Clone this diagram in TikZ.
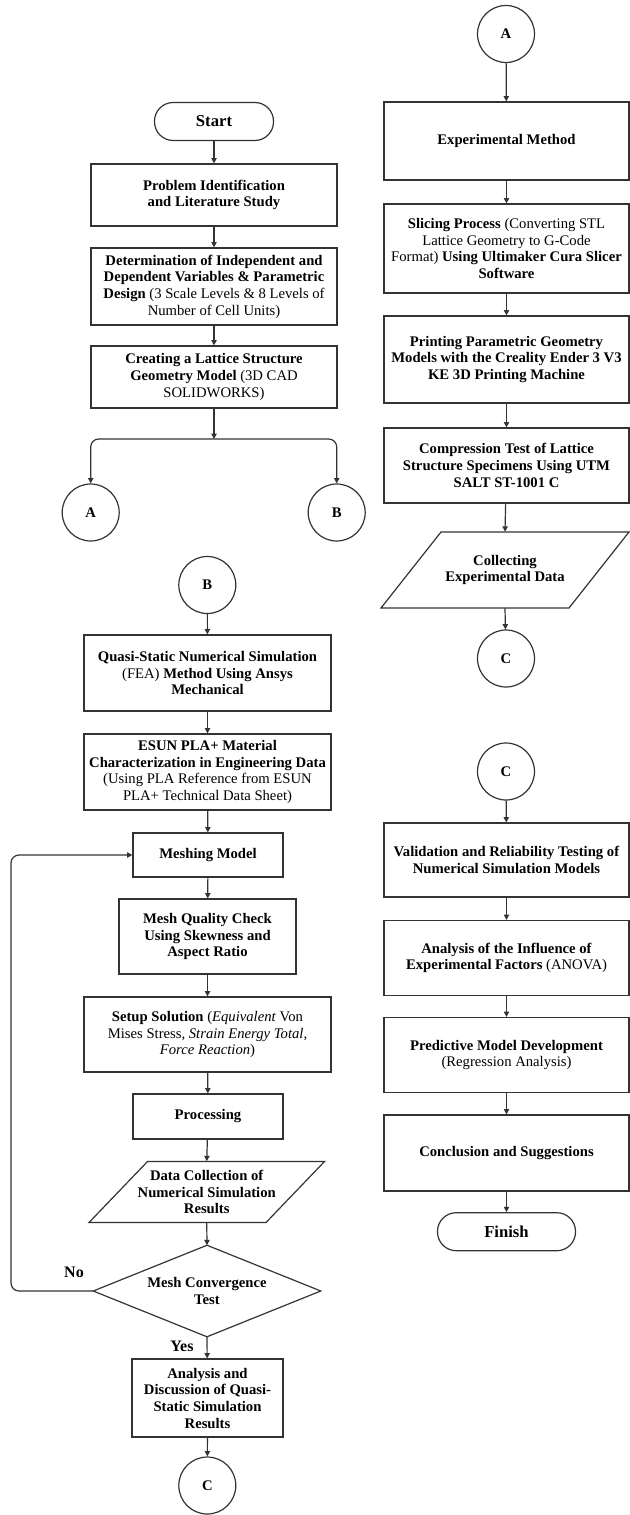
\documentclass[tikz,border=0pt]{standalone}
\usepackage{fontspec}
\setmainfont{Liberation Serif}
\usetikzlibrary{arrows.meta,calc}
\begin{document}
\begin{tikzpicture}[x=0.75pt,y=-0.75pt,
  ln/.style={draw=black!80, line width=0.9pt},
  arr/.style={ln,-{Triangle[length=4pt,width=4pt]}},
  wh/.style 2 args={minimum width=#1*0.75pt, minimum height=#2*0.75pt},
  box/.style={ln, rectangle, align=center, inner sep=1pt, font=\fontsize{11}{12.5}\selectfont},
  term/.style={ln, rectangle, rounded corners=14pt, align=center, inner sep=1pt, font=\fontsize{12.5}{14}\selectfont\bfseries},
  conn/.style={ln, circle, minimum size=42.75pt, inner sep=0pt, font=\fontsize{11}{12}\selectfont\bfseries},
  ghost/.style={rectangle, align=center, inner sep=0pt, font=\fontsize{11}{12.5}\selectfont},
  lab/.style={font=\fontsize{12}{14}\selectfont\bfseries}
]
\useasboundingbox (0,0) rectangle (630,1515);

% ---------------- left column ----------------
\node[term, wh={119}{38}] (start) at (214,121.5) {Start};
\node[box, wh={246}{62}] (prob) at (214,195) {\textbf{Problem Identification}\\\textbf{and Literature Study}};
\node[box, wh={246}{77}] (det) at (214,286.5) {\textbf{Determination of Independent and}\\\textbf{Dependent Variables \& Parametric}\\\textbf{Design} (3 Scale Levels \& 8 Levels of\\Number of Cell Units)};
\node[box, wh={246}{62}] (create) at (214,377) {\textbf{Creating a Lattice Structure}\\\textbf{Geometry Model} (3D CAD\\SOLIDWORKS)};
\coordinate (j) at (214,439);
\node[conn] (A1) at (90.7,512.5) {A};
\node[conn] (B1) at (336.7,512.5) {B};

\node[conn] (B2) at (207.3,585) {B};
\node[box, wh={247}{76}] (quasi) at (207.5,673) {\textbf{Quasi-Static Numerical Simulation}\\(FEA) \textbf{Method Using Ansys}\\\textbf{Mechanical}};
\node[box, wh={247}{76}] (esun) at (207.5,772) {\textbf{ESUN PLA+ Material}\\\textbf{Characterization in Engineering Data}\\(Using PLA Reference from ESUN\\PLA+ Technical Data Sheet)};
\node[box, wh={150}{44}] (mesh) at (208,855) {\textbf{Meshing Model}};
\node[box, wh={177}{75}] (mq) at (207.5,936.5) {\textbf{Mesh Quality Check}\\\textbf{Using Skewness and}\\\textbf{Aspect Ratio}};
\node[box, wh={247}{75}] (setup) at (207.5,1034.5) {\textbf{Setup Solution} (\textit{Equivalent} Von\\Mises Stress, \textit{Strain Energy Total,}\\\textit{Force Reaction})};
\node[box, wh={150}{45}] (proc) at (208,1116.5) {\textbf{Processing}};
\node[ghost, wh={235}{61}] (datac) at (206.75,1192) {\textbf{Data Collection of}\\\textbf{Numerical Simulation}\\\textbf{Results}};
\draw[ln] ($(datac.center)+(-59.25,-30.5)$) -- ($(datac.center)+(117.75,-30.5)$) -- ($(datac.center)+(59.25,30.5)$) -- ($(datac.center)+(-117.75,30.5)$) -- cycle;
\node[ghost, wh={227}{91}] (conv) at (207,1291) {\textbf{Mesh Convergence}\\\textbf{Test}};
\draw[ln] (conv.north) -- (conv.east) -- (conv.south) -- (conv.west) -- cycle;
\node[lab] (no) at (74,1272) {No};
\node[lab] (yes) at (182,1346) {Yes};
\node[box, wh={151}{78}] (anal) at (207.5,1398) {\textbf{Analysis and}\\\textbf{Discussion of Quasi-}\\\textbf{Static Simulation}\\\textbf{Results}};
\node[conn] (C1) at (207.3,1485.5) {C};
\coordinate (lp) at (11,855);

% ---------------- right column ----------------
\node[conn] (A2) at (506,34) {A};
\node[box, wh={245}{78}] (exp) at (506.5,141) {\textbf{Experimental Method}};
\node[box, wh={245}{89}] (slice) at (506.5,248.5) {\textbf{Slicing Process} (Converting STL\\Lattice Geometry to G-Code\\Format) \textbf{Using Ultimaker Cura Slicer}\\\textbf{Software}};
\node[box, wh={245}{87}] (print) at (506.5,359.5) {\textbf{Printing Parametric Geometry}\\\textbf{Models with the Creality Ender 3 V3}\\\textbf{KE 3D Printing Machine}};
\node[box, wh={245}{75}] (comp) at (506.5,465.5) {\textbf{Compression Test of Lattice}\\\textbf{Structure Specimens Using UTM}\\\textbf{SALT ST-1001 C}};
\node[ghost, wh={248}{76}] (coll) at (505,570) {\textbf{Collecting}\\\textbf{Experimental Data}};
\draw[ln] ($(coll.center)+(-64,-38)$) -- ($(coll.center)+(124,-38)$) -- ($(coll.center)+(64,38)$) -- ($(coll.center)+(-124,38)$) -- cycle;
\node[conn] (C2) at (506,658.5) {C};
\node[conn] (C3) at (506,771.5) {C};
\node[box, wh={245}{74}] (valid) at (506.5,860) {\textbf{Validation and Reliability Testing of}\\\textbf{Numerical Simulation Models}};
\node[box, wh={245}{75}] (infl) at (506.5,958) {\textbf{Analysis of the Influence of}\\\textbf{Experimental Factors} (ANOVA)};
\node[box, wh={245}{75}] (pred) at (506.5,1055) {\textbf{Predictive Model Development}\\(Regression Analysis)};
\node[box, wh={245}{76}] (concl) at (506.5,1153) {\textbf{Conclusion and Suggestions}};
\node[term, wh={138}{38}] (finish) at (506.5,1231.7) {Finish};

% ---------------- connectors ----------------
\draw[arr] (start) -- (prob);
\draw[arr] (prob) -- (det);
\draw[arr] (det) -- (create);
\draw[arr] (create) -- (j);
\draw[arr, rounded corners=6pt] (j) -| (A1.north);
\draw[arr, rounded corners=6pt] (j) -| (B1.north);

\draw[arr] (B2) -- (quasi);
\draw[arr] (quasi) -- (esun);
\draw[arr] (esun) -- (mesh);
\draw[arr] (mesh) -- (mq);
\draw[arr] (mq) -- (setup);
\draw[arr] (setup) -- (proc);
\draw[arr] (proc) -- (datac.north);
\draw[arr] (datac.south) -- (conv.north);
\draw[arr] (conv.south) -- (anal);
\draw[arr] (anal) -- (C1);
\draw[arr, rounded corners=6pt] (conv.west) -| (lp) -- (mesh.west);

\draw[arr] (A2) -- (exp);
\draw[arr] (exp) -- (slice);
\draw[arr] (slice) -- (print);
\draw[arr] (print) -- (comp);
\draw[arr] (comp) -- (coll.north);
\draw[arr] (coll.south) -- (C2);
\draw[arr] (C3) -- (valid);
\draw[arr] (valid) -- (infl);
\draw[arr] (infl) -- (pred);
\draw[arr] (pred) -- (concl);
\draw[arr] (concl) -- (finish);
\end{tikzpicture}
\end{document}
